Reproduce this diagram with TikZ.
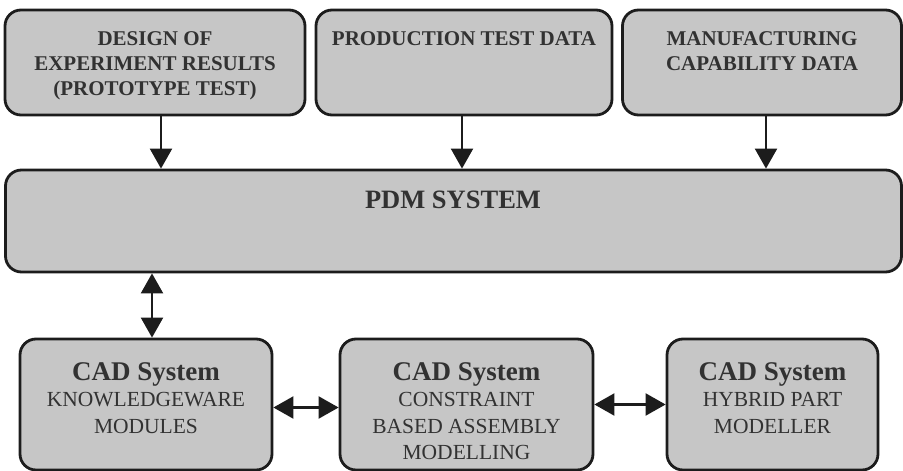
\documentclass[tikz,border=0pt]{standalone}
\usepackage{fontspec}
\setmainfont{Liberation Serif}
\usetikzlibrary{arrows.meta,calc}
\definecolor{boxfill}{RGB}{198,198,198}
\definecolor{boxline}{RGB}{28,28,28}
\definecolor{txt}{RGB}{50,50,50}
\begin{document}
\begin{tikzpicture}[x=1pt,y=-1pt,
  box/.style={draw=boxline,fill=boxfill,line width=2.8pt,rounded corners=16pt,inner sep=0pt},
  toptext/.style={text=txt,font=\fontsize{21}{25}\selectfont\bfseries,align=center,inner sep=0pt,anchor=north},
  pdmtext/.style={text=txt,font=\fontsize{26.5}{30}\selectfont\bfseries,inner sep=0pt,anchor=base},
  cadtext/.style={text=txt,font=\fontsize{21.5}{26.5}\selectfont,align=center,inner sep=0pt,anchor=north},
  arr/.style={line width=2.2pt,draw=boxline,-{Triangle[length=20pt,width=22pt]}},
  darr/.style={line width=2.2pt,draw=boxline,{Triangle[length=20pt,width=22pt]}-{Triangle[length=20pt,width=22pt]}}]
\useasboundingbox (0,0) rectangle (903,471);
% top boxes
\node[box,minimum width=300pt,minimum height=105pt] (d1) at (155,62.5) {};
\node[box,minimum width=296pt,minimum height=105pt] (d2) at (464,62.5) {};
\node[box,minimum width=279pt,minimum height=105pt] (d3) at (762,62.5) {};
\node[toptext] (d1t) at (155,31) {DESIGN OF\\EXPERIMENT RESULTS\\(PROTOTYPE TEST)};
\node[toptext] (d2t) at (464,31) {PRODUCTION TEST DATA};
\node[toptext] (d3t) at (762,31) {MANUFACTURING\\CAPABILITY DATA};
% PDM
\node[box,minimum width=896pt,minimum height=102pt] (pdm) at (453.5,221) {};
\node[pdmtext] (pdmt) at (453,208) {PDM SYSTEM};
% bottom boxes
\node[box,minimum width=252pt,minimum height=131pt] (ca) at (146,404.5) {};
\node[box,minimum width=253pt,minimum height=131pt] (cb) at (466.5,404.5) {};
\node[box,minimum width=211pt,minimum height=131pt] (cc) at (772.5,404.5) {};
\node[cadtext] (cat) at (146,362) {{\fontsize{27}{27}\selectfont\bfseries CAD System}\\KNOWLEDGEWARE\\MODULES};
\node[cadtext] (cbt) at (466.5,362) {{\fontsize{27}{27}\selectfont\bfseries CAD System}\\CONSTRAINT\\BASED ASSEMBLY\\MODELLING};
\node[cadtext] (cct) at (772.5,362) {{\fontsize{27}{27}\selectfont\bfseries CAD System}\\HYBRID PART\\MODELLER};
% arrows
\draw[arr] ([xshift=6pt]d1.south) -- ([xshift=6pt]d1.south |- pdm.north);
\draw[arr] ([xshift=-2pt]d2.south) -- ([xshift=-2pt]d2.south |- pdm.north);
\draw[arr] ([xshift=4pt]d3.south) -- ([xshift=4pt]d3.south |- pdm.north);
\draw[darr] ([xshift=6pt]ca.north |- pdm.south) -- ([xshift=6pt]ca.north);
\draw[darr] ([yshift=-3pt]ca.east) -- ([yshift=-3pt]cb.west);
\draw[darr] (cb.east) -- (cc.west);
\end{tikzpicture}
\end{document}
